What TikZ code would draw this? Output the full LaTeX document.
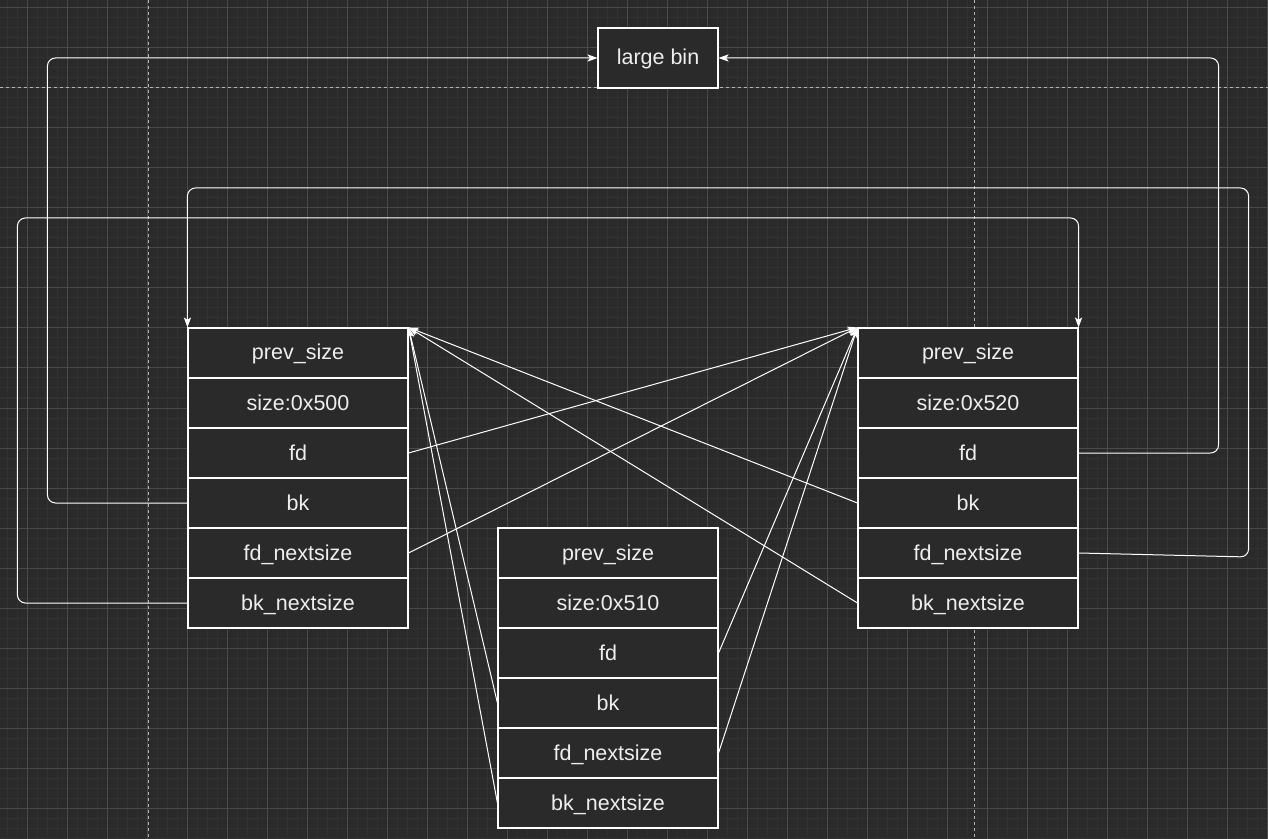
\documentclass[tikz,border=0pt]{standalone}
\usepackage{fontspec}
\setmainfont{Liberation Sans}
\usetikzlibrary{arrows.meta}
\definecolor{canvas}{HTML}{2A2A2A}
\definecolor{gridminor}{HTML}{313131}
\definecolor{gridmajor}{HTML}{4A4A4A}
\definecolor{pageline}{HTML}{B4B4B4}
\definecolor{label}{HTML}{EEEEEE}

\begin{document}
\begin{tikzpicture}[x=0.5pt, y=-0.5pt,
    minor/.style={draw=gridminor, line width=0.5pt},
    major/.style={draw=gridmajor, line width=0.5pt},
    pagebreak/.style={draw=pageline, line width=0.5pt, dash pattern=on 1.5pt off 1.5pt},
    field/.style={draw=white, fill=canvas, line width=0.55pt, text=label,
        minimum width=110pt, minimum height=25pt, inner sep=0pt,
        text height=9pt, text depth=2pt,
        font=\fontsize{10.75pt}{13pt}\selectfont},
    link/.style={draw=white, line width=0.5pt, -{Stealth[length=5pt, width=3.6pt, inset=1.2pt]}},
    roundlink/.style={link, rounded corners=4pt}]

    % canvas and grid
    \fill[canvas] (0,0) rectangle (1268,839);
    \useasboundingbox (0,0) rectangle (1268,839);
    \foreach \x in {7,17,...,1267} \draw[minor] (\x,0) -- (\x,839);
    \foreach \y in {8,18,...,838} \draw[minor] (0,\y) -- (1268,\y);
    \foreach \x in {27,67,...,1267} \draw[major] (\x,0) -- (\x,839);
    \foreach \y in {8,48,...,808} \draw[major] (0,\y) -- (1268,\y);
    \draw[pagebreak] (148,0) -- (148,839);
    \draw[pagebreak] (974,0) -- (974,839);
    \draw[pagebreak] (0,88) -- (1268,88);

    % the bin
    \node[field, minimum width=60pt, minimum height=30pt] (bin) at (658,58) {large bin};

    % the three chunks
    \foreach \c/\cx/\cy/\sz in {L/298/328/500, M/608/528/510, R/968/328/520}
        \foreach \f/\t [count=\i from 0] in {prev/prev\_size, size/size:0x\sz, fd/fd, bk/bk,
                fdn/fd\_nextsize, bkn/bk\_nextsize}
            \node[field] (\c\f) at ({\cx},{\cy+25+50*\i}) {\t};

    % links to the bin
    \draw[roundlink] (Lbk.west) -- ++(-140,0) |- (bin.west);
    \draw[roundlink] (Rfd.east) -- ++(140,0) |- (bin.east);

    % nextsize loop
    \draw[roundlink] (Lbkn.west) -- ++(-170,0) -- ++(0,-385) -| (Rprev.north east);
    \draw[roundlink] (Rfdn.east) -- ++(170,4) -- ++(0,-369) -| (Lprev.north west);

    % fd / bk pointers
    \foreach \s in {Rbk, Rbkn, Mbk, Mbkn}
        \draw[link] (\s.west) -- (Lprev.north east);
    \foreach \s in {Lfd, Lfdn, Mfd, Mfdn}
        \draw[link] (\s.east) -- (Rprev.north west);
\end{tikzpicture}
\end{document}
